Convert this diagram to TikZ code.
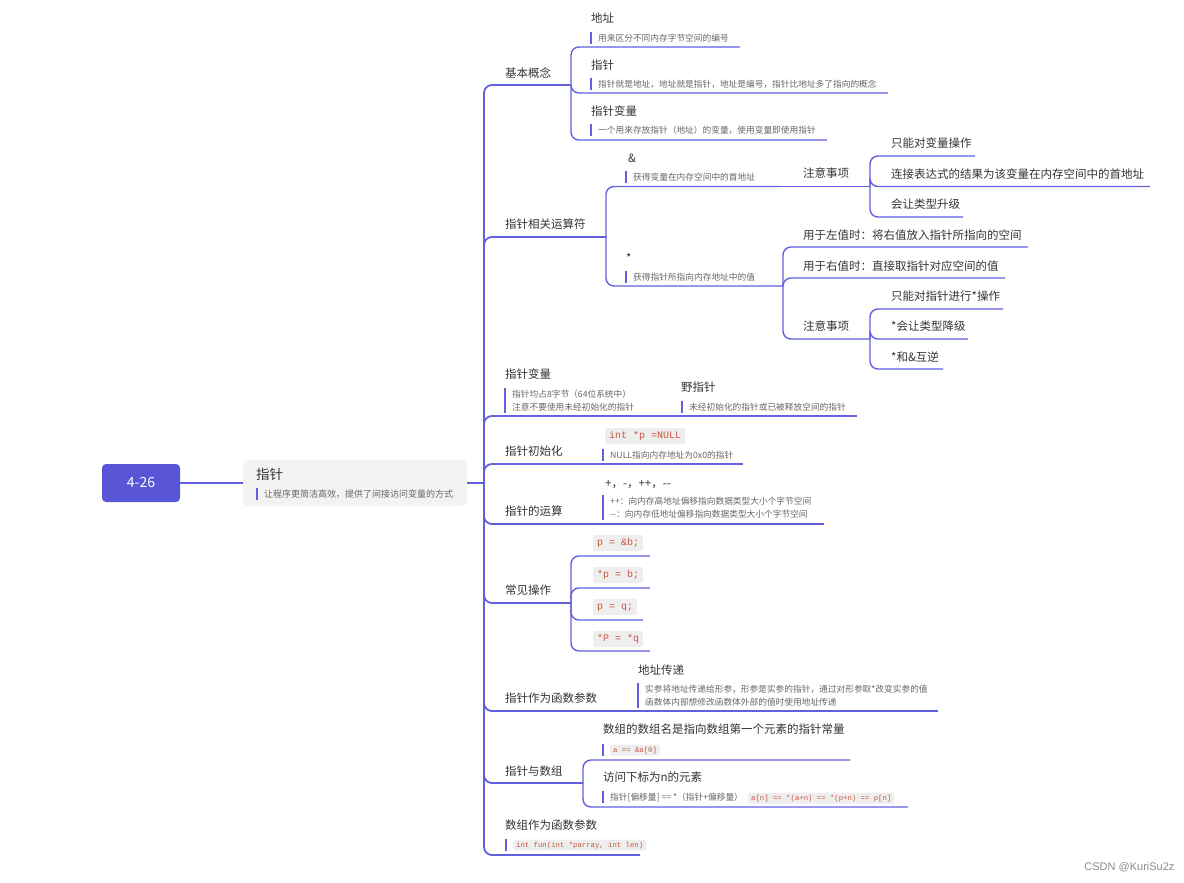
\documentclass[tikz,border=0pt]{standalone}
\usepackage{fontspec}
\newfontfamily\cjk{Noto Sans CJK SC}
\newfontfamily\mono{Liberation Mono}
\newfontfamily\wmfont{Liberation Sans}
\definecolor{linkc}{HTML}{6360DD}
\definecolor{rootc}{HTML}{5856D6}
\definecolor{boxc}{HTML}{F3F3F3}
\definecolor{textc}{HTML}{333333}
\definecolor{notec}{HTML}{666666}
\definecolor{codec}{HTML}{C8553D}
\definecolor{codebg}{HTML}{EEEEEE}
\newcommand\dd{\mbox{-}\mbox{-}}
\newcommand\notebar[2]{\draw[bar] ([xshift=-7pt]#1.north west) -- ([xshift=-7pt]#2.south west);}
\tikzset{
  link/.style={draw=linkc, line width=1.4pt, rounded corners=8pt},
  trunkline/.style={link, line width=1.8pt},
  bar/.style={draw=linkc, line width=1.2pt},
  rootbox/.style={fill=rootc, rounded corners=4pt, minimum width=78pt, minimum height=38pt,
    text=white, font=\cjk\fontsize{14}{16}\selectfont},
  centerbox/.style={fill=boxc, rounded corners=5pt, minimum width=224pt, minimum height=46pt},
  topic/.style={anchor=west, inner sep=0pt, text=textc, font=\cjk\fontsize{11.5}{14}\selectfont,
    text height=10pt, text depth=1.2pt},
  note/.style={anchor=west, inner xsep=0pt, inner ysep=2pt, text=notec,
    font=\cjk\fontsize{8.7}{11}\selectfont, text height=7.5pt, text depth=1pt},
  code/.style={anchor=west, fill=codebg, text=codec, rounded corners=2pt, inner xsep=4pt, inner ysep=3.5pt,
    font=\mono\fontsize{10}{12}\selectfont, text height=7pt, text depth=2pt},
  smallcode/.style={code, inner xsep=3pt, inner ysep=2pt, font=\mono\fontsize{7.3}{9}\selectfont,
    text height=5.5pt, text depth=1.5pt},
}
\begin{document}
\begin{tikzpicture}[x=1pt, y=-1pt]
\useasboundingbox (0,0) rectangle (1184,883);

% root and central topic
\node[rootbox] (root) at (141,483) {4-26};
\node[centerbox] (c0) at (355,483) {};
\node[topic, font=\cjk\fontsize{13.5}{16}\selectfont] (t0) at (256,475) {指针};
\node[note, font=\cjk\fontsize{9}{11}\selectfont] (t0n) at (264,494) {让程序更简洁高效，提供了间接访问变量的方式};
\notebar{t0n}{t0n}
\coordinate (trunk) at (484,483);
\draw[link] (root) -- (c0);
\draw[link] (c0) -- (trunk);

% ends of the branch lines
\coordinate (j1) at (571,85);
\coordinate (j2) at (606,237);
\coordinate (j3) at (672,416);
\coordinate (j4) at (595,464);
\coordinate (j5) at (595,524);
\coordinate (j6) at (571,603);
\coordinate (j7) at (628,711);
\coordinate (j8) at (583,783);
\coordinate (j9) at (640,855);
\foreach \j in {j1,j2,j3,j4,j5,j6,j7,j8,j9}
  \draw[trunkline] (trunk) |- (\j);

% 基本概念
\node[topic] (b1) at (505,73) {基本概念};
\coordinate (k1) at (740,47);
\coordinate (k2) at (888,93);
\coordinate (k3) at (827,140);
\foreach \k in {k1,k2,k3}
  \draw[link] (j1) |- (\k);
\node[topic] (k1t) at (591,18) {地址};
\node[note] (k1n) at (598,38) {用来区分不同内存字节空间的编号};
\node[topic] (k2t) at (591,65) {指针};
\node[note] (k2n) at (598,84) {指针就是地址，地址就是指针，地址是编号，指针比地址多了指向的概念};
\node[topic] (k3t) at (591,111) {指针变量};
\node[note] (k3n) at (598,130) {一个用来存放指针（地址）的变量，使用变量即使用指针};
\notebar{k1n}{k1n}
\notebar{k2n}{k2n}
\notebar{k3n}{k3n}

% 指针相关运算符
\node[topic] (b2) at (505,224) {指针相关运算符};
\coordinate (a1) at (780,186.5);
\coordinate (a2) at (783,286);
\draw[link] (j2) |- (a1);
\draw[link] (j2) |- (a2);
\node[topic] (a1t) at (628,158) {\&};
\node[note] (a1n) at (633,177) {获得变量在内存空间中的首地址};
\node[topic] (a2t) at (626,258) {*};
\node[note] (a2n) at (633,277) {获得指针所指向内存地址中的值};
\notebar{a1n}{a1n}
\notebar{a2n}{a2n}

\coordinate (n1) at (870,186.5);
\draw[link] (a1) -- (n1);
\node[topic] (n1t) at (803,173) {注意事项};
\coordinate (m1) at (975,156);
\coordinate (m2) at (1150,186.5);
\coordinate (m3) at (963,217);
\foreach \m in {m1,m2,m3}
  \draw[link] (n1) |- (\m);
\node[topic] (m1t) at (891,143) {只能对变量操作};
\node[topic] (m2t) at (891,174) {连接表达式的结果为该变量在内存空间中的首地址};
\node[topic] (m3t) at (891,204) {会让类型升级};

\coordinate (d1) at (1028,247);
\coordinate (d2) at (1005,278);
\coordinate (n2) at (870,339);
\foreach \d in {d1,d2,n2}
  \draw[link] (a2) |- (\d);
\node[topic] (d1t) at (803,235) {用于左值时：将右值放入指针所指向的空间};
\node[topic] (d2t) at (803,266) {用于右值时：直接取指针对应空间的值};
\node[topic] (n2t) at (803,326) {注意事项};
\coordinate (m4) at (1003,309);
\coordinate (m5) at (968,339);
\coordinate (m6) at (943,369);
\foreach \m in {m4,m5,m6}
  \draw[link] (n2) |- (\m);
\node[topic] (m4t) at (891,296) {只能对指针进行*操作};
\node[topic] (m5t) at (891,326) {*会让类型降级};
\node[topic] (m6t) at (891,357) {*和\&互逆};

% 指针变量
\node[topic] (b3) at (505,374) {指针变量};
\node[note] (b3n1) at (512,394) {指针均占8字节（64位系统中）};
\node[note] (b3n2) at (512,407) {注意不要使用未经初始化的指针};
\notebar{b3n1}{b3n2}
\coordinate (w1) at (857,416);
\draw[link] (j3) -- (w1);
\node[topic] (w1t) at (681,387) {野指针};
\node[note] (w1n) at (689,407) {未经初始化的指针或已被释放空间的指针};
\notebar{w1n}{w1n}

% 指针初始化
\node[topic] (b4) at (505,451) {指针初始化};
\coordinate (i1) at (743,464);
\draw[link] (j4) -- (i1);
\node[code] (i1t) at (605,436) {int *p =NULL};
\node[note] (i1n) at (610,455) {NULL指向内存地址为0x0的指针};
\notebar{i1n}{i1n}

% 指针的运算
\node[topic] (b5) at (505,511) {指针的运算};
\coordinate (o1) at (824,524);
\draw[link] (j5) -- (o1);
\node[topic] (o1t) at (605,483) {+，-，++，\dd};
\node[note] (o1n1) at (610,501) {++：向内存高地址偏移指向数据类型大小个字节空间};
\node[note] (o1n2) at (610,514) {\dd：向内存低地址偏移指向数据类型大小个字节空间};
\notebar{o1n1}{o1n2}

% 常见操作
\node[topic] (b6) at (505,590) {常见操作};
\coordinate (p1) at (650,556);
\coordinate (p2) at (650,588);
\coordinate (p3) at (643,620);
\coordinate (p4) at (650,651);
\foreach \p in {p1,p2,p3,p4}
  \draw[link] (j6) |- (\p);
\node[code] (p1t) at (593,543) {p = \&b;};
\node[code] (p2t) at (593,575) {*p = b;};
\node[code] (p3t) at (593,607) {p = q;};
\node[code] (p4t) at (593,639) {*P = *q};

% 指针作为函数参数
\node[topic] (b7) at (505,698) {指针作为函数参数};
\coordinate (f1) at (938,711);
\draw[link] (j7) -- (f1);
\node[topic] (f1t) at (638,670) {地址传递};
\node[note] (f1n1) at (645,689) {实参将地址传递给形参，形参是实参的指针，通过对形参取*改变实参的值};
\node[note] (f1n2) at (645,702) {函数体内部想修改函数体外部的值时使用地址传递};
\notebar{f1n1}{f1n2}

% 指针与数组
\node[topic] (b8) at (505,771) {指针与数组};
\coordinate (r1) at (850,760);
\coordinate (r2) at (908,807);
\draw[link] (j8) |- (r1);
\draw[link] (j8) |- (r2);
\node[topic] (r1t) at (603,729) {数组的数组名是指向数组第一个元素的指针常量};
\node[smallcode] (r1c) at (610,750) {a == \&a[0]};
\notebar{r1c}{r1c}
\node[topic] (r2t) at (603,777) {访问下标为n的元素};
\node[note] (r2n) at (610,797) {指针[偏移量] == *（指针+偏移量）};
\node[smallcode] (r2c) at (748,798) {a[n] == *(a+n) == *(p+n) == p[n]};
\notebar{r2n}{r2n}

% 数组作为函数参数
\node[topic] (b9) at (505,825) {数组作为函数参数};
\node[smallcode] (b9c) at (513,845) {int fun(int *parray, int len)};
\notebar{b9c}{b9c}

\node[anchor=east, text=black!45, font=\wmfont\fontsize{11}{13}\selectfont] (wm) at (1178,867) {CSDN @KuriSu2z};
\end{tikzpicture}
\end{document}
